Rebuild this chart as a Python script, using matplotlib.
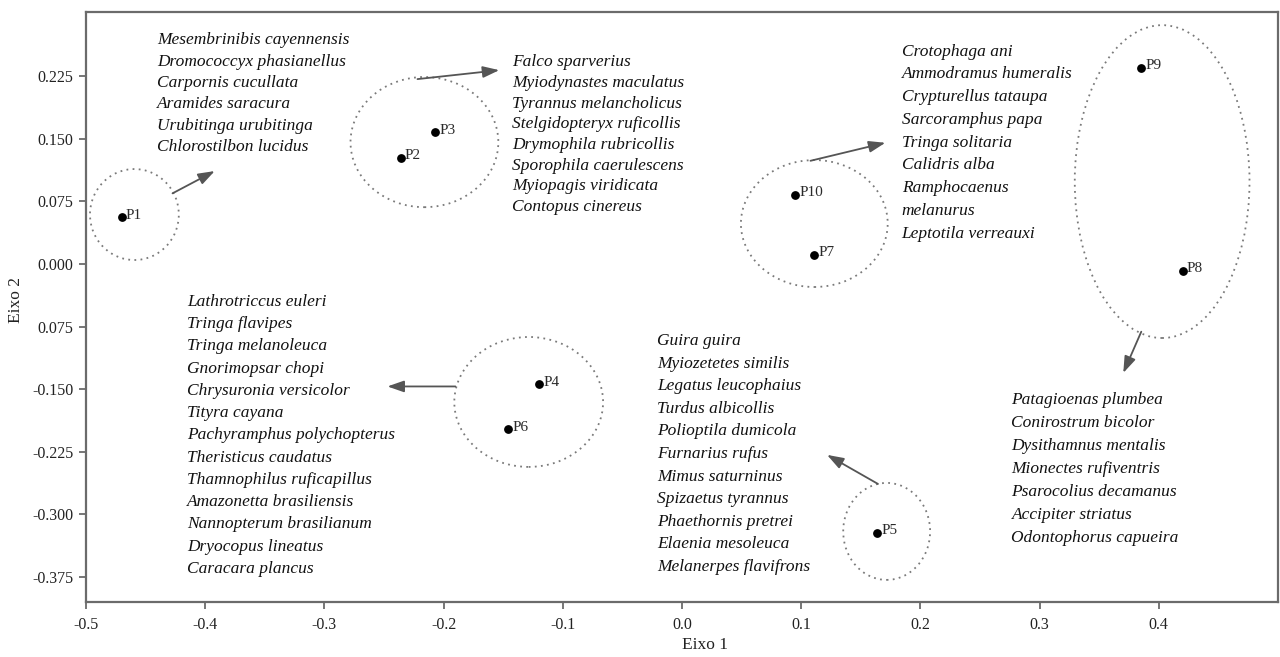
import matplotlib
matplotlib.use("Agg")
import matplotlib.pyplot as plt
from matplotlib.patches import Ellipse

# Site scores on the first two ordination axes
points = ["P1", "P2", "P3", "P4", "P5", "P6", "P7", "P8", "P9", "P10"]
eixo1 = [-0.470, -0.236, -0.207, -0.120, 0.164, -0.146, 0.111, 0.420, 0.385, 0.095]
eixo2 = [0.056, 0.127, 0.158, -0.144, -0.322, -0.198, 0.011, -0.008, 0.235, 0.083]

# Species lists associated with each group of points
species_p1 = ["Mesembrinibis cayennensis", "Dromococcyx phasianellus", "Carpornis cucullata",
              "Aramides saracura", "Urubitinga urubitinga", "Chlorostilbon lucidus"]
species_p2_p3 = ["Falco sparverius", "Myiodynastes maculatus", "Tyrannus melancholicus",
                 "Stelgidopteryx ruficollis", "Drymophila rubricollis", "Sporophila caerulescens",
                 "Myiopagis viridicata", "Contopus cinereus"]
species_p7_p10 = ["Crotophaga ani", "Ammodramus humeralis", "Crypturellus tataupa",
                  "Sarcoramphus papa", "Tringa solitaria", "Calidris alba", "Ramphocaenus",
                  "melanurus", "Leptotila verreauxi"]
species_p4_p6 = ["Lathrotriccus euleri", "Tringa flavipes", "Tringa melanoleuca", "Gnorimopsar chopi",
                 "Chrysuronia versicolor", "Tityra cayana", "Pachyramphus polychopterus",
                 "Theristicus caudatus", "Thamnophilus ruficapillus", "Amazonetta brasiliensis",
                 "Nannopterum brasilianum", "Dryocopus lineatus", "Caracara plancus"]
species_p5 = ["Guira guira", "Myiozetetes similis", "Legatus leucophaius", "Turdus albicollis",
              "Polioptila dumicola", "Furnarius rufus", "Mimus saturninus", "Spizaetus tyrannus",
              "Phaethornis pretrei", "Elaenia mesoleuca", "Melanerpes flavifrons"]
species_p8_p9 = ["Patagioenas plumbea", "Conirostrum bicolor", "Dysithamnus mentalis",
                 "Mionectes rufiventris", "Psarocolius decamanus", "Accipiter striatus",
                 "Odontophorus capueira"]

xticks = [-0.5, -0.4, -0.3, -0.2, -0.1, 0.0, 0.1, 0.2, 0.3, 0.4]
xtick_labels = ["-0.5", "-0.4", "-0.3", "-0.2", "-0.1", "0.0", "0.1", "0.2", "0.3", "0.4"]
yticks = [-0.375, -0.300, -0.225, -0.150, -0.075, 0.000, 0.075, 0.150, 0.225]
ytick_labels = ["-0.375", "-0.300", "-0.225", "-0.150", "0.075", "0.000", "0.075", "0.150", "0.225"]

serif = ["Liberation Serif", "DejaVu Serif"]
plt.rcParams["font.family"] = serif

fig = plt.figure(figsize=(12.8, 6.57), dpi=100)
ax = fig.add_axes([86 / 1280, 1 - 602 / 657, 1192 / 1280, 590 / 657])
ax.set_xlim(-0.5, 0.5)
ax.set_ylim(-0.405, 0.302)

spine_col = "#6b6b6b"
for s in ax.spines.values():
    s.set_color(spine_col)
    s.set_linewidth(1.6)

ax.set_xticks(xticks)
ax.set_xticklabels(xtick_labels)
ax.set_yticks(yticks)
ax.set_yticklabels(ytick_labels)
ax.tick_params(direction="out", length=5, width=1.3, color=spine_col,
               labelsize=11.5, labelcolor="#222222", pad=4)
ax.tick_params(axis="x", pad=6)

# Point markers and labels
ax.scatter(eixo1, eixo2, s=28, color="black", zorder=3)
for name, x, y in zip(points, eixo1, eixo2):
    ax.annotate(name, (x, y), xytext=(3, 1.5), textcoords="offset points",
                ha="left", va="center", fontsize=11, color="#2a2a2a")

# Dotted envelopes around the groups
groups = [
    ((-0.4594, 0.0593), 0.0745, 0.109),
    ((-0.2161, 0.1461), 0.124, 0.156),
    ((-0.1286, -0.1653), 0.1248, 0.1557),
    ((0.1717, -0.3204), 0.0729, 0.1162),
    ((0.1110, 0.0485), 0.1231, 0.1521),
    ((0.4028, 0.0988), 0.1466, 0.3749),
]
for center, w, h in groups:
    ax.add_patch(Ellipse(center, w, h, fill=False, edgecolor="#7a7a7a",
                         linewidth=1.3, linestyle=(0, (1, 2.4))))

# Arrows from each envelope to its species list
arrows = [
    ((-0.4274, 0.0847), (-0.3920, 0.1114)),
    ((-0.2219, 0.2216), (-0.1533, 0.2323)),
    ((-0.1901, -0.1467), (-0.2471, -0.1467)),
    ((0.1644, -0.2635), (0.1217, -0.2287)),
    ((0.1078, 0.1237), (0.1706, 0.1453)),
    ((0.3853, -0.0811), (0.3702, -0.1305)),
]
for start, end in arrows:
    ax.annotate("", xy=end, xytext=start,
                arrowprops=dict(arrowstyle="-|>,head_length=1.0,head_width=0.35",
                                color="#555555", lw=1.3, shrinkA=0, shrinkB=0))

# Species lists (anchor of first line, line spacing in pixels)
blocks = [
    (species_p1, (-0.4405, 0.2683), 21.4),
    (species_p2_p3, (-0.1424, 0.2419), 20.7),
    (species_p7_p10, (0.1843, 0.2545), 22.75),
    (species_p4_p6, (-0.4154, -0.0455), 22.25),
    (species_p5, (-0.0209, -0.0922), 22.6),
    (species_p8_p9, (0.2764, -0.1629), 23.0),
]
for names, (bx, by), step in blocks:
    for i, nm in enumerate(names):
        ax.annotate(nm, (bx, by), xytext=(0, -i * step * 0.72), textcoords="offset points",
                    ha="left", va="center", fontsize=12.5, style="italic", color="#111111")

fig.text(705 / 1280, 1 - 645 / 657, "Eixo 1", ha="center", va="center",
         fontsize=12.5, color="#222222")
fig.text(16 / 1280, 1 - 300 / 657, "Eixo 2", ha="center", va="center",
         rotation=90, fontsize=12.5, color="#222222")

fig.savefig("out.png", dpi=100, facecolor="white")
